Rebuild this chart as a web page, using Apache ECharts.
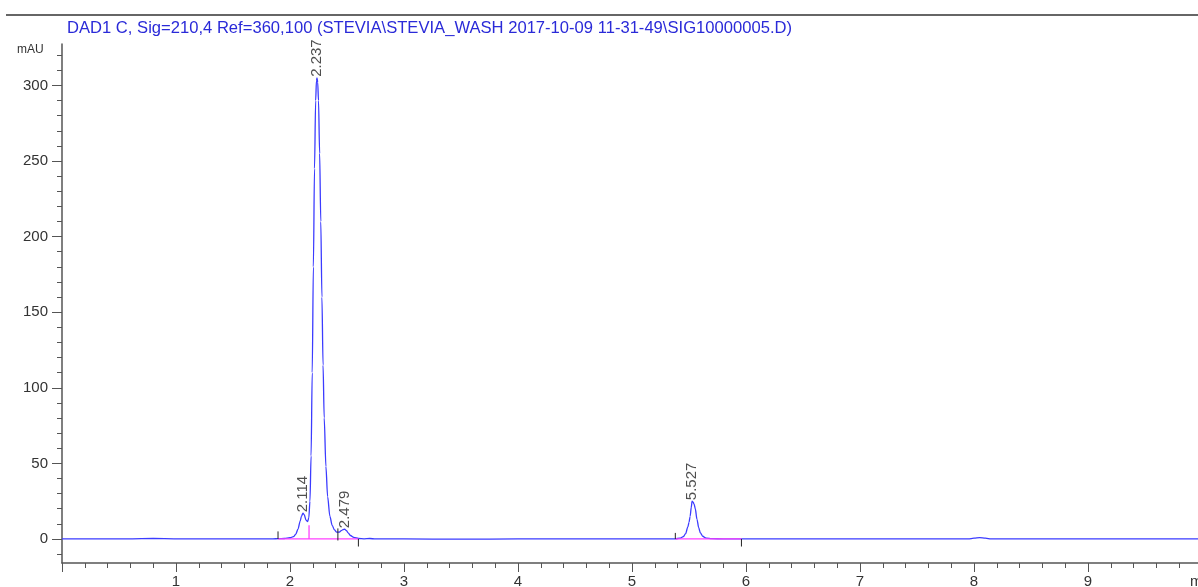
<!DOCTYPE html>
<html>
<head>
<meta charset="utf-8">
<script src="https://cdn.jsdelivr.net/npm/echarts@6/dist/echarts.min.js"></script>
<style>html,body{margin:0;padding:0;background:#fff}#c{width:1198px;height:587px}</style>
</head>
<body>
<div id="c"></div>
<script>
// ---- data ----
const titleText = 'DAD1 C, Sig=210,4 Ref=360,100 (STEVIA\\STEVIA_WASH 2017-10-09 11-31-49\\SIG10000005.D)';
const traceTime = [0.00,0.30,0.60,0.80,1.00,1.30,1.60,1.85,1.90,1.95,2.00,2.03,2.05,2.07,2.09,2.10,2.114,2.125,2.14,2.155,2.165,2.175,2.185,2.195,2.205,2.215,2.225,2.232,2.237,2.243,2.25,2.26,2.27,2.28,2.29,2.30,2.315,2.33,2.35,2.37,2.39,2.41,2.43,2.45,2.465,2.479,2.495,2.51,2.53,2.56,2.60,2.65,2.70,2.75,3.00,3.50,4.00,4.50,5.00,5.30,5.38,5.42,5.45,5.47,5.49,5.50,5.51,5.52,5.527,5.535,5.545,5.555,5.57,5.585,5.60,5.62,5.65,5.70,5.80,6.00,6.50,7.00,7.50,7.95,8.00,8.05,8.10,8.15,9.00,10.00];
const traceMAU  = [0.0,0.0,0.1,0.3,0.1,0.0,0.1,0.1,0.2,0.3,0.8,1.5,3,6.5,12,15,17,16,12.5,11.5,14,25,55,110,180,245,290,303,305,302,290,255,210,160,115,80,48,28,15,9,6,4.5,4.5,5.5,6.2,6.5,5.5,4,2.3,1,0.3,0.1,0.3,0,0,-0.1,0,0,0,0.1,0.1,0.5,1.5,3.5,8,11,15,21,25,24.5,23,20,13,7.5,4,1.8,0.6,0.2,0.1,0,0,0.1,0,0,0.5,0.9,0.5,0,0,0];
const peakTimes   = [2.114, 2.237, 2.479, 5.527];
const peakHeights = [17, 305, 6.5, 25];
const baselineSegs = [[[1.895,0],[2.60,0]], [[2.167,0],[2.167,9]], [[5.38,0],[5.96,0]]];
const baselineTicks = [[1.895,0,5], [2.42,-1,7], [2.60,-5,0], [5.38,0,4], [5.96,-5,0]];
const yMajor = [0,50,100,150,200,250,300];
const yMinor = [-10,10,20,30,40,60,70,80,90,110,120,130,140,160,170,180,190,210,220,230,240,260,270,280,290,310,320];

const trace = traceTime.map((t,i)=>[t, traceMAU[i]]);
const axisColor = '#555';
const series = [
  { type:'line', data: trace, showSymbol:false, smooth:0.3, smoothMonotone:'x',
    lineStyle:{color:'#3b3bff', width:1.3}, z:3, silent:true }
];
baselineSegs.forEach(s => series.push({ type:'line', data:s, showSymbol:false,
  lineStyle:{color:'#ff40ff', width:1.3}, z:4, silent:true }));
baselineTicks.forEach(t => series.push({ type:'line', data:[[t[0],t[1]],[t[0],t[2]]], showSymbol:false,
  lineStyle:{color:'#222', width:1}, z:5, silent:true }));
series.push({ type:'scatter', symbolSize:0, z:6, silent:true,
  data: peakTimes.map((t,i)=>[t, peakHeights[i]]),
  label:{ show:true, formatter:p=>p.value[0].toFixed(3), rotate:90, position:'top', distance:1,
    align:'left', verticalAlign:'middle', color:'#222', fontSize:15, fontFamily:'Liberation Sans' } });

const chart = echarts.init(document.getElementById('c'));
chart.setOption({
  animation:false,
  backgroundColor:'#fff',
  title:{ text:titleText, left:62, top:15, textStyle:{ color:'#2a2ad8', fontSize:16.6, fontWeight:'normal', fontFamily:'Liberation Sans' } },
  graphic:[
    { type:'line', shape:{x1:6,y1:15,x2:1198,y2:15}, style:{stroke:'#666', lineWidth:2} },
    { type:'text', left:17, top:44, style:{ text:'mAU', fill:'#333', font:'12px Liberation Sans' } }
  ],
  grid:{ left:62, right:-4, top:44, bottom:24, containLabel:false, outerBoundsMode:'none' },
  xAxis:{ type:'value', min:0, max:10, interval:1,
    axisLine:{ onZero:false, lineStyle:{color:axisColor, width:1.5} },
    axisTick:{ length:9, lineStyle:{color:axisColor} },
    minorTick:{ show:true, splitNumber:5, length:5, lineStyle:{color:axisColor} },
    splitLine:{show:false},
    axisLabel:{ showMaxLabel:true, showMinLabel:true, margin:11, color:'#333', fontSize:15, fontFamily:'Liberation Sans',
      formatter:v => v===0 ? '' : (v===10 ? 'min' : String(v)) } },
  yAxis:[
    { type:'value', min:-15.9, max:327.4, position:'left',
      axisLine:{ show:true, onZero:false, lineStyle:{color:axisColor, width:1.5} },
      axisTick:{ show:true, length:10, customValues:yMajor, lineStyle:{color:axisColor} },
      axisLabel:{ customValues:yMajor, margin:14, color:'#333', fontSize:15, fontFamily:'Liberation Sans' },
      splitLine:{show:false} },
    { type:'value', min:-15.9, max:327.4, position:'left', offset:0,
      axisLine:{ show:false },
      axisTick:{ show:true, length:5, customValues:yMinor, lineStyle:{color:axisColor} },
      axisLabel:{ show:false }, splitLine:{show:false} }
  ],
  series: series
});
</script>
</body>
</html>
